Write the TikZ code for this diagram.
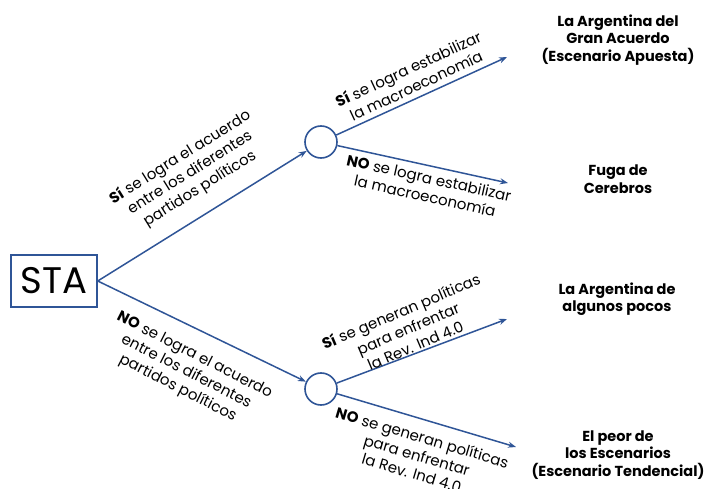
\documentclass[tikz,border=0pt]{standalone}
\usepackage{fontspec}
\setmainfont{Poppins}
\usetikzlibrary{arrows.meta}
\definecolor{lineblue}{RGB}{47,85,151}
\begin{document}
\begin{tikzpicture}[x=1pt,y=-1pt,
  conn/.style={draw=lineblue,line width=1.5pt,-{Stealth[length=8pt,width=6pt]}},
  chance/.style={circle,draw=lineblue,line width=1.6pt,minimum size=32pt,inner sep=0pt},
  outcome/.style={font=\fontsize{14.5}{17.5}\selectfont\bfseries,align=center},
  lbl/.style={font=\fontsize{15}{18.5}\selectfont,align=center,inner sep=0pt}]
\useasboundingbox (0,0) rectangle (707,489);
\node[draw=lineblue,line width=1.5pt,minimum width=86pt,minimum height=52pt,inner sep=0pt,font=\fontsize{37}{40}\selectfont] (sta) at (54,281) {STA};
\node[chance] (c1) at (321,142) {};
\node[chance] (c2) at (321,389) {};
\coordinate (e1) at (507,57);
\coordinate (e2) at (508,183);
\coordinate (e3) at (507,319);
\coordinate (e4) at (516,447);
\draw[conn] (sta.east) -- (c1);
\draw[conn] (sta.east) -- (c2);
\draw[conn] (c1) -- (e1);
\draw[conn] (c1) -- (e2);
\draw[conn] (c2) -- (e3);
\draw[conn] (c2) -- (e4);
\node[outcome] (o1) at (618,40) {La Argentina del\\Gran Acuerdo\\(Escenario Apuesta)};
\node[outcome] (o2) at (618,179) {Fuga de\\Cerebros};
\node[outcome] (o3) at (617,299) {La Argentina de\\algunos pocos};
\node[outcome] (o4) at (618,455) {El peor de\\los Escenarios\\(Escenario Tendencial)};
\node[lbl,rotate=32] (l1) at (190,173) {\textbf{Sí} se logra el acuerdo\\entre los diferentes\\partidos políticos};
\node[lbl,rotate=-27] (l2) at (186,372) {\textbf{NO} se logra el acuerdo\\entre los diferentes\\partidos políticos};
\node[lbl,rotate=25] (l3) at (412,77) {\textbf{Sí} se logra estabilizar\\la macroeconomía};
\node[lbl,rotate=-12.5] (l4) at (427,187) {\textbf{NO} se logra estabilizar\\la macroeconomía};
\node[lbl,rotate=23] (l5) at (408,328) {\textbf{Sí} se generan políticas\\para enfrentar\\la Rev. Ind 4.0};
\node[lbl,rotate=-16.5] (l6) at (417,455) {\textbf{NO} se generan políticas\\para enfrentar\\la Rev. Ind 4.0};
\end{tikzpicture}
\end{document}
